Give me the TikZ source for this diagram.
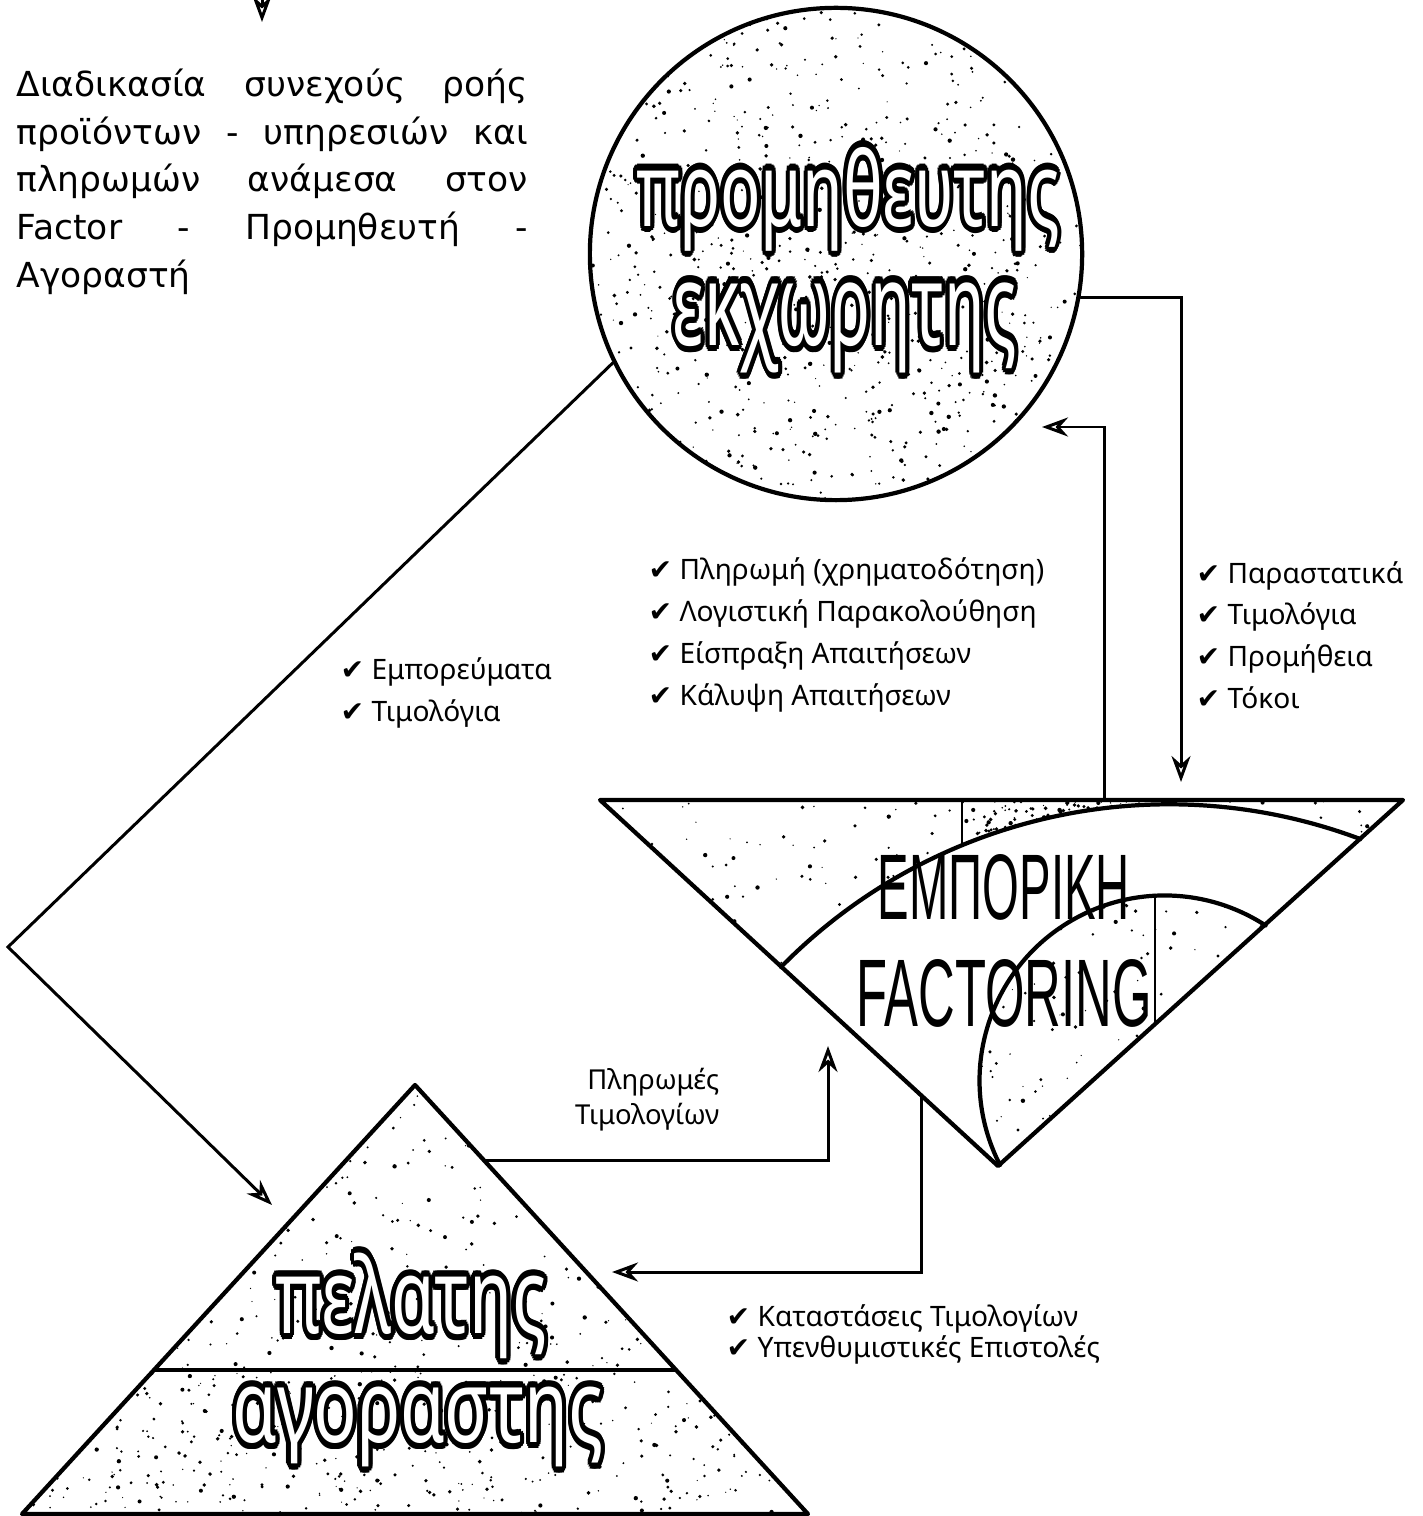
\documentclass[tikz,border=0pt]{standalone}
\usepackage{fontspec}
\setmainfont{Noto Sans}
\newfontfamily\tickfont{DejaVu Sans}
\newfontfamily\titlefont{DejaVu Sans}
\newfontfamily\condfont{Liberation Sans}
\usepackage{graphicx}
\usepackage{contour}
\contournumber{16}
\contourlength{0.6pt}
\usetikzlibrary{arrows.meta,calc,positioning}

\newcommand{\tck}{{\tickfont\char"2714}\ }
% white letters with a black outline
\newcommand{\outword}[3]{\resizebox*{#1}{#2}{\color{white}\bfseries\contour{black}{#3}}}
% random specks inside the current clip: x0,y0,x1,y1,count
\newcommand{\speckle}[5]{%
  \foreach \k in {1,...,#5}{%
    \pgfmathsetmacro{\sx}{#1+rnd*(#3-#1)}%
    \pgfmathsetmacro{\sy}{#2+rnd*(#4-#2)}%
    \pgfmathsetmacro{\sr}{0.6+1.6*rnd}%
    \fill (\sx,\sy) circle[radius=\sr];
  }}

\tikzset{
  flow/.style={line width=0.85pt,-{Stealth[open,length=2.6mm,width=1.9mm]}},
  thickline/.style={line width=1.2pt,line join=round},
  lbl/.style={anchor=west,inner sep=0,align=left,font=\fontsize{8}{11.9}\selectfont},
}

\begin{document}
\begin{tikzpicture}[x=0.01cm,y=-0.01cm,line cap=round]
\useasboundingbox (0,0) rectangle (1422,1516);
\pgfmathsetseed{1729}

% corners of the two triangles
\coordinate (fL) at (600,800); \coordinate (fR) at (1403,800); \coordinate (fB) at (998,1166);
\coordinate (cT) at (415,1085); \coordinate (cL) at (22,1514); \coordinate (cR) at (808,1514);

% supplier circle
\begin{scope}
  \clip (836,254) circle[radius=246];
  \speckle{590}{8}{1082}{500}{850}
\end{scope}
\node[draw,circle,thickline,minimum size=4.92cm,inner sep=0] (supplier) at (836,254) {};
\node[inner sep=0] (supname) at (848,202) {\outword{4.23cm}{1.10cm}{προμηθευτης}};
\node[inner sep=0] (supname2) at (845,331) {\outword{3.44cm}{0.97cm}{εκχωρητης}};

% factoring triangle
\begin{scope}
  \clip (fL) -- (fR) -- (1360,839) arc[start angle=-69.4,end angle=-135.5,radius=544] -- cycle;
  \speckle{600}{800}{1403}{970}{230}
  \speckle{962}{800}{1170}{850}{160}
\end{scope}
\begin{scope}
  \clip (1000,1165) arc[start angle=152.8,end angle=303.1,radius=185] -- cycle;
  \speckle{975}{893}{1270}{1166}{160}
\end{scope}
\draw[thickline] (fL) -- (fR) -- (fB) -- cycle;
\draw[thickline] (781,967) arc[start angle=-135.5,end angle=-69.4,radius=544];
\draw[thickline] (1000,1165) arc[start angle=152.8,end angle=303.1,radius=185];
\draw[line width=0.8pt] (962,800) -- (962,845);
\draw[line width=0.8pt] (1155,895) -- (1155,1024);
\node[inner sep=0,font=\condfont] (fact1) at (1004,887) {\resizebox{2.52cm}{0.65cm}{ΕΜΠΟΡΙΚΗ}};
\node[inner sep=0,font=\condfont] (fact2) at (1004,993) {\resizebox{2.95cm}{0.67cm}{FACTORING}};

% customer triangle
\begin{scope}
  \clip (cT) -- (cL) -- (cR) -- cycle;
  \speckle{150}{1085}{680}{1370}{300}
  \speckle{20}{1370}{810}{1516}{450}
\end{scope}
\draw[thickline] (cT) -- (cL) -- (cR) -- cycle;
\draw[line width=0.9pt] (154,1370) -- (676,1370);
\node[inner sep=0] (custname) at (411,1309) {\outword{2.71cm}{1.12cm}{πελατης}};
\node[inner sep=0] (custname2) at (418,1430) {\outword{3.71cm}{0.86cm}{αγοραστης}};

% texts
\node[anchor=north west,inner sep=0,align=left,font=\titlefont\fontsize{9.8}{13.6}\selectfont] (title) at (16,68) {%
\makebox[5.11cm][s]{Διαδικασία συνεχούς ροής}\\
\makebox[5.11cm][s]{προϊόντων - υπηρεσιών και}\\
\makebox[5.11cm][s]{πληρωμών ανάμεσα στον}\\
\makebox[5.11cm][s]{Factor - Προμηθευτή -}\\
Αγοραστή};
\node[lbl] (goods) at (340,693) {\tck Εμπορεύματα\\\tck Τιμολόγια};
\node[lbl] (services) at (648,635) {\tck Πληρωμή (χρηματοδότηση)\\\tck Λογιστική Παρακολούθηση\\\tck Είσπραξη Απαιτήσεων\\\tck Κάλυψη Απαιτήσεων};
\node[lbl] (docs) at (1196,635) {\tck Παραστατικά\\\tck Τιμολόγια\\\tck Προμήθεια\\\tck Τόκοι};
\node[lbl,font=\fontsize{8}{8.8}\selectfont] (reports) at (726,1334) {\tck Καταστάσεις Τιμολογίων\\\tck Υπενθυμιστικές Επιστολές};
\node[anchor=east,inner sep=0,align=right,font=\fontsize{7.8}{10}\selectfont] (payments) at (720,1100) {Πληρωμές\\Τιμολογίων};

% connectors
\coordinate (topA) at (262,0); \coordinate (topB) at (262,22);
\draw[flow] (topA) -- (topB);
\coordinate (bendL) at (8,947); \coordinate (custTip) at (272,1205);
\draw[flow] (supplier.206) -- (bendL) -- (custTip);
\coordinate (fTopA) at (1104,800); \coordinate (suppTip) at (1042,427);
\draw[flow] (fTopA) |- (suppTip);
\coordinate (factTip) at (1181,782);
\draw[flow] (supplier.-10) -| (factTip);
\coordinate (cRe) at (484,1160); \coordinate (factTipB) at (828,1046);
\draw[flow] (cRe) -| (factTipB);
\coordinate (fLe) at (921,1095); \coordinate (custTipB) at (612,1272);
\draw[flow] (fLe) |- (custTipB);
\end{tikzpicture}
\end{document}
